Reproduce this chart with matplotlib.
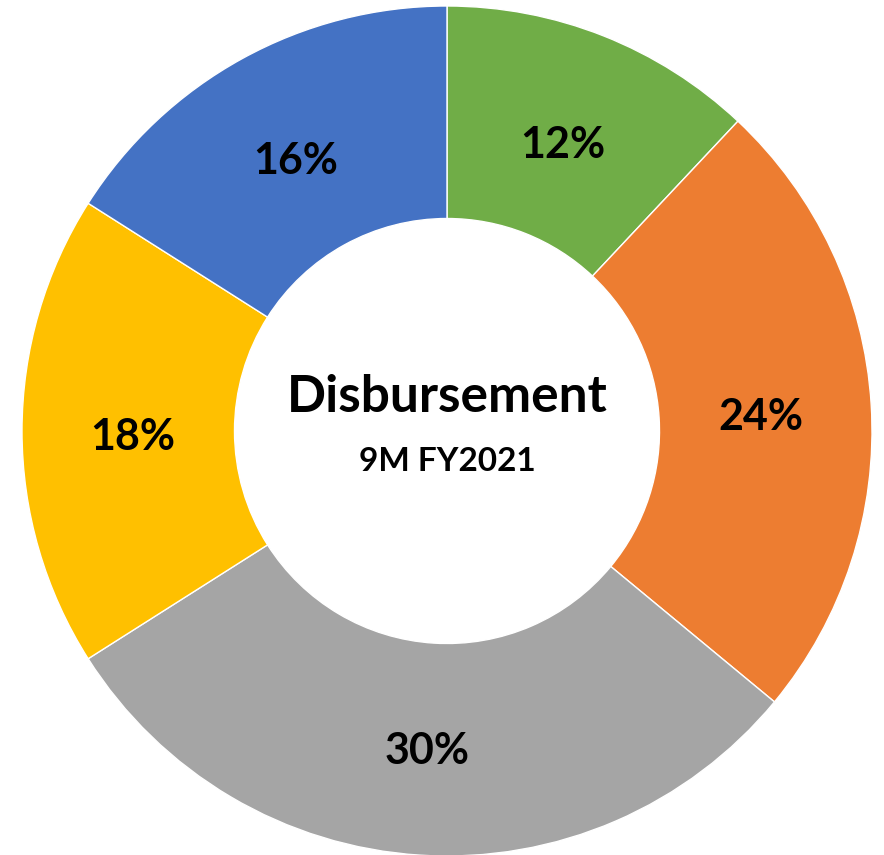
import matplotlib.pyplot as plt

# slice shares, clockwise from 12 o'clock
labels = ['Green', 'Orange', 'Gray', 'Yellow', 'Blue']
shares = [12, 24, 30, 18, 16]
colors = ['#70AD47', '#ED7D31', '#A5A5A5', '#FFC000', '#4472C4']

title = 'Disbursement'
subtitle = '9M FY2021'

fig = plt.figure(figsize=(8.84, 8.55), dpi=100)
ax = fig.add_axes([0, 0, 1, 1])
ax.set_xlim(0, 884)
ax.set_ylim(0, 855)
ax.set_aspect('equal')
ax.axis('off')

cx, cy, r = 447, 855 - 431, 425

wedges, texts, autotexts = ax.pie(
    shares, colors=colors, center=(cx, cy), radius=r,
    startangle=90, counterclock=False,
    wedgeprops=dict(width=r * 0.5, edgecolor='white', linewidth=1),
    autopct='%d%%', pctdistance=0.74,
    textprops=dict(fontsize=31, fontweight='bold', color='black', family='Lato'),
)
# Excel puts labels a touch lower than the geometric centre
for t in autotexts:
    x, y = t.get_position()
    t.set_position((x, y - 6))

ax.set_xlim(0, 884)
ax.set_ylim(0, 855)

ax.text(cx, 855 - 398, title, ha='center', va='center',
        fontsize=37, fontweight='bold', family='Lato')
ax.text(cx, 855 - 462, subtitle, ha='center', va='center',
        fontsize=24, fontweight='bold', family='Lato')

plt.savefig('out.png', dpi=100)
